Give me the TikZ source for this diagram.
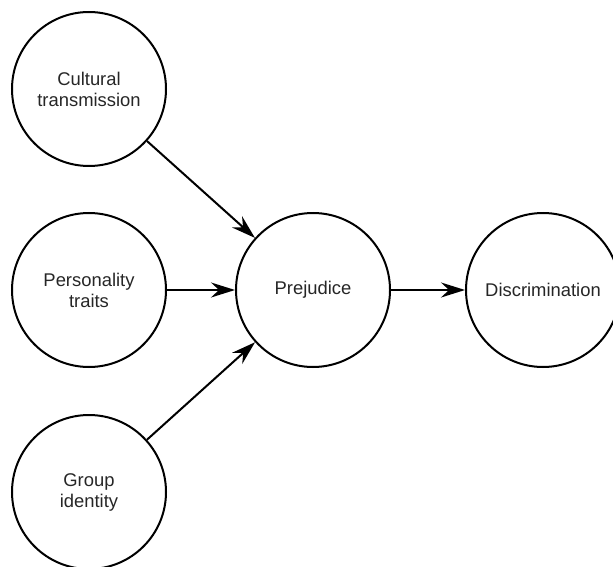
\documentclass[tikz,border=0pt]{standalone}
\usepackage{fontspec}
\setmainfont{Liberation Sans}
\usetikzlibrary{arrows.meta}
\tikzset{
    factor/.style={draw, circle, line width=1pt, minimum size=77pt, inner sep=0pt, align=center, font=\fontsize{9.2}{10.5}\selectfont, text=black!85},
    link/.style={-{Stealth[length=12pt, width=7.5pt, inset=4pt]}, line width=1pt}
}
\begin{document}
\begin{tikzpicture}[x=0.5pt, y=-0.5pt]
        \clip (0,0) rectangle (613,566);
        \node[factor] (cult) at (89,89) {Cultural\\transmission};
        \node[factor] (pers) at (89,290) {Personality\\traits};
        \node[factor] (grp) at (89,492) {Group\\identity};
        \node[factor] (prej) at (313,290) {Prejudice};
        \node[factor] (disc) at (543,290) {Discrimination};

        \draw[link] (cult) -- (prej);
        \draw[link] (pers) -- (prej);
        \draw[link] (grp) -- (prej);
        \draw[link] (prej) -- (disc);
    \end{tikzpicture}
\end{document}
